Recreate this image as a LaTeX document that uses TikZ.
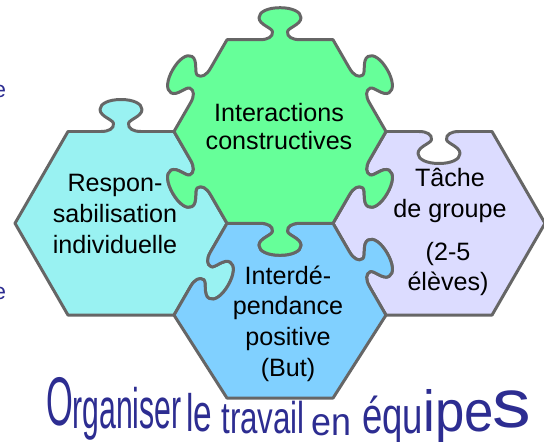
\documentclass[tikz,border=0pt]{standalone}
\usepackage{fontspec}
\setmainfont{Liberation Sans}
\usepackage{graphicx}
\usepackage{tikz}
\definecolor{greenpiece}{RGB}{102,255,153}
\definecolor{cyanpiece}{RGB}{153,242,242}
\definecolor{lilacpiece}{RGB}{220,220,255}
\definecolor{bluepiece}{RGB}{128,208,255}
\definecolor{edgegray}{RGB}{102,102,102}
\definecolor{titleblue}{RGB}{45,45,145}
% one side of a hexagonal piece, #1 = direction, #2 = 1 knob out, -1 knob in
\newcommand\puzzleside[2]{%
  -- ([rotate=#1]-20,-91.8)
  .. controls ([rotate=#1]-12,-91.8) and ([rotate=#1]-7,{-91.8-3*#2}) .. ([rotate=#1]-7.5,{-91.8-8*#2})
  .. controls ([rotate=#1]-8,{-91.8-12*#2}) and ([rotate=#1]-21,{-91.8-15*#2}) .. ([rotate=#1]-21,{-91.8-22*#2})
  .. controls ([rotate=#1]-21,{-91.8-28*#2}) and ([rotate=#1]-12,{-91.8-32*#2}) .. ([rotate=#1]0,{-91.8-32*#2})
  .. controls ([rotate=#1]12,{-91.8-32*#2}) and ([rotate=#1]21,{-91.8-28*#2}) .. ([rotate=#1]21,{-91.8-22*#2})
  .. controls ([rotate=#1]21,{-91.8-15*#2}) and ([rotate=#1]8,{-91.8-12*#2}) .. ([rotate=#1]7.5,{-91.8-8*#2})
  .. controls ([rotate=#1]7,{-91.8-3*#2}) and ([rotate=#1]12,-91.8) .. ([rotate=#1]20,-91.8)
  -- ([rotate=#1]53,-91.8)}
\newcommand\flatside[1]{-- ([rotate=#1]53,-91.8)}
\tikzset{
    %Define style for pieces
    piece/.style={
           draw=edgegray,
           line width=1.7pt,
           line join=round},
    piecetext/.style={
           font=\fontsize{14.3}{17.5}\selectfont,
           align=center,
           inner sep=0pt},
    titletext/.style={
           text=titleblue,
           font=\fontsize{20}{24}\selectfont,
           anchor=base west,
           inner sep=0pt},
    fragment/.style={
           text=titleblue,
           font=\fontsize{13}{15}\selectfont,
           anchor=base east,
           inner sep=0pt}
}
\begin{document}
\begin{tikzpicture}[x=0.02cm,y=0.02cm]
\useasboundingbox (0,0) rectangle (544,441);

 %pieces
\begin{scope}[shift={(121,217.7)}]
\draw[piece,fill=cyanpiece] ([rotate=120]-53,-91.8) \puzzleside{120}{-1} \puzzleside{180}{1}
    \flatside{240} \flatside{300} \flatside{0} \puzzleside{60}{1} -- cycle;
\end{scope}
\begin{scope}[shift={(439,217.7)}]
\draw[piece,fill=lilacpiece] ([rotate=120]-53,-91.8) \flatside{120} \puzzleside{180}{-1}
    \puzzleside{240}{-1} \puzzleside{300}{-1} \flatside{0} \flatside{60} -- cycle;
\end{scope}
\begin{scope}[shift={(280,125.9)}]
\draw[piece,fill=bluepiece] ([rotate=120]-53,-91.8) \puzzleside{120}{1} \puzzleside{180}{-1}
    \puzzleside{240}{-1} -- (-53,-83) -- (53,-83) -- cycle;
\end{scope}
\begin{scope}[shift={(280,309.5)}]
\draw[piece,fill=greenpiece] ([rotate=120]-53,-91.8) \puzzleside{120}{1} \puzzleside{180}{1}
    \puzzleside{240}{1} \puzzleside{300}{1} \puzzleside{0}{1} \puzzleside{60}{1} -- cycle;
\end{scope}

 %texts
\node[piecetext,font=\fontsize{14.3}{16.4}\selectfont] (interactions) at (279,314.5) {Interactions\\constructives};
\node[piecetext] (respon) at (115,227) {Respon-\\sabilisation\\individuelle};
\node[piecetext] (tache) at (450,245.3) {Tâche\\de groupe};
\node[piecetext] (eleves) at (448,172.1) {(2-5\\élèves)};
\node[piecetext] (interdep) at (288,117.3) {Interdé-\\pendance\\positive\\(But)};

 %title
\node[titletext] (title-o) at (46.3,16) {\scalebox{0.98}[1.96]{O}};
\node[titletext] (title-rganiser) at (72,13) {\scalebox{0.86}[1.62]{rganiser}};
\node[titletext] (title-le) at (186,10) {\scalebox{0.95}[1.5]{le}};
\node[titletext] (title-travail) at (221,8) {\scalebox{0.89}[1.27]{travail}};
\node[titletext] (title-en) at (311,6) {\scalebox{1.02}[1.11]{en}};
\node[titletext] (title-equ) at (362,8) {\scalebox{1.04}[1.45]{équ}};
\node[titletext] (title-ipe) at (423,10) {\scalebox{1.5}[1.65]{ipe}};
\node[titletext] (title-s) at (492,14) {\scalebox{2.2}[1.95]{s}};

 %cut words at the left
\node[fragment] (frag-top) at (6.5,344) {e};
\node[fragment] (frag-bottom) at (6.5,142) {e};
\end{tikzpicture}
\end{document}
